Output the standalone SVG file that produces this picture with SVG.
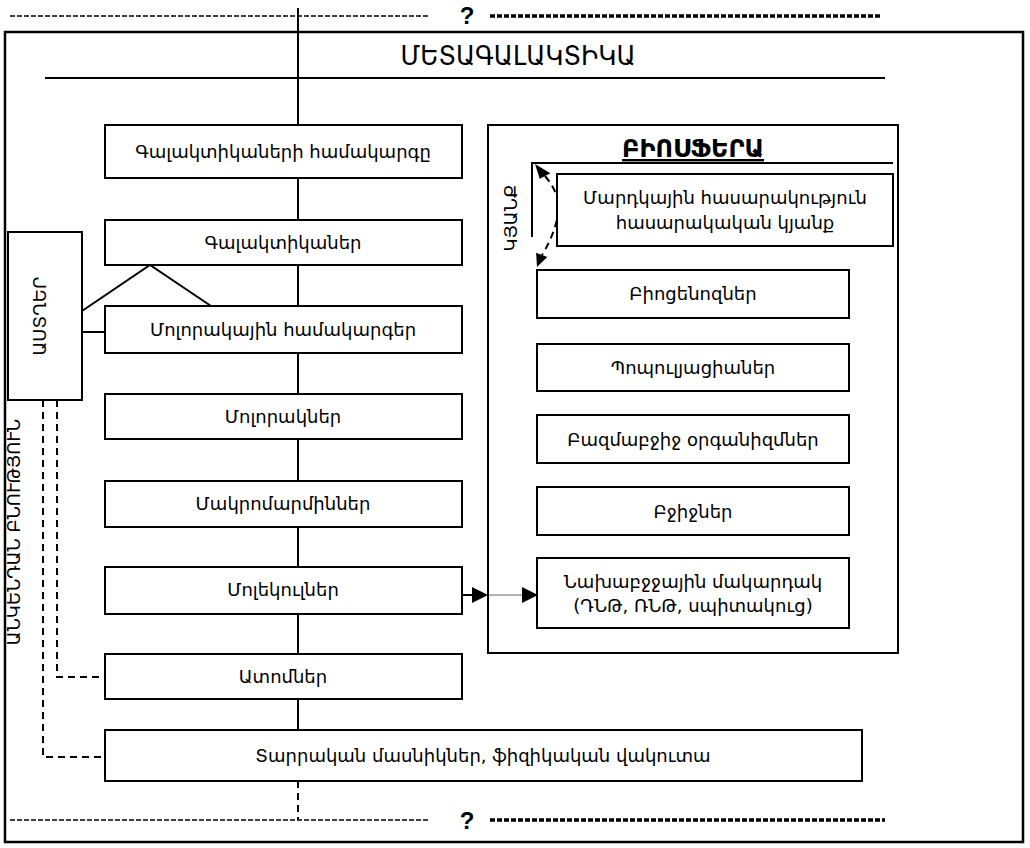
<svg xmlns="http://www.w3.org/2000/svg" width="1030" height="848" viewBox="0 0 1030 848">
<style>
.box{fill:#fff;stroke:#000;stroke-width:2}
.ln{stroke:#000;stroke-width:2;fill:none}
.dl{stroke:#000;stroke-width:2;fill:none;stroke-dasharray:7,5}
.t{font-family:"DejaVu Sans","Noto Sans",sans-serif;font-size:18px;fill:#000;text-anchor:middle}
.q{font-family:"Liberation Sans",Arial,sans-serif;font-size:24px;font-weight:bold;fill:#000;text-anchor:middle}
</style>
<rect width="1030" height="848" fill="#fff"/>
<rect x="5" y="32" width="1018" height="810" fill="none" stroke="#000" stroke-width="2.5"/>
<g id="connectors">
<line class="ln" x1="298" y1="8" x2="298" y2="730"/>
<line class="dl" x1="298" y1="781" x2="298" y2="820"/>
<line x1="10" y1="16" x2="430" y2="16" stroke="#000" stroke-width="1.5" stroke-dasharray="5,2"/>
<line x1="490" y1="16" x2="880" y2="16" stroke="#000" stroke-width="3.5" stroke-dasharray="5,2"/>
<line x1="10" y1="820" x2="430" y2="820" stroke="#000" stroke-width="1.5" stroke-dasharray="5,2"/>
<line x1="490" y1="820" x2="885" y2="820" stroke="#000" stroke-width="3.5" stroke-dasharray="5,2"/>
<line class="ln" x1="45" y1="78" x2="885" y2="78" stroke-width="2.5"/>
<polyline class="ln" points="82,311 150,265 211,306"/>
<line class="ln" x1="82" y1="332" x2="105" y2="332"/>
<polyline class="dl" points="43,400 43,757 105,757"/>
<polyline class="dl" points="57,400 57,677 105,677"/>
<line class="ln" x1="462" y1="595" x2="476" y2="595"/>
<polygon points="488,595 472,587 472,603" fill="#000"/>
<line x1="488" y1="595" x2="526" y2="595" stroke="#666" stroke-width="1"/>
<polygon points="538,595 522,587 522,603" fill="#000"/>
<polyline class="ln" points="532,237 532,163 893,163"/>
<path class="dl" d="M 545 176 Q 561 195 558 212 Q 556 232 542 255"/>
<polygon points="535,164 550.3,173.3 539.7,178.7" fill="#000"/>
<polygon points="537,267 547.3,257.1 536.1,252.7" fill="#000"/>
</g>
<text class="q" x="467" y="24">?</text>
<text class="q" x="467" y="829">?</text>
<text class="t" x="518" y="65" style="font-size:26px" textLength="235" lengthAdjust="spacingAndGlyphs">ՄԵՏԱԳԱԼԱԿՏԻԿԱ</text>
<g id="astgher"><rect class="box" x="8" y="232" width="74" height="168"/><text class="t" transform="translate(46,316) rotate(-90)">ԱՍՏՂԵՐ</text></g>
<text class="t" transform="translate(20,532) rotate(-90)">ԱՆԿԵՆԴԱՆ ԲՆՈՒԹՅՈՒՆ</text>
<g id="n1"><rect class="box" x="105" y="125" width="357" height="53"/><text class="t" x="283" y="158">Գալակտիկաների համակարգը</text></g>
<g id="n2"><rect class="box" x="105" y="220" width="357" height="45"/><text class="t" x="283" y="249">Գալակտիկաներ</text></g>
<g id="n3"><rect class="box" x="105" y="306" width="357" height="47"/><text class="t" x="283" y="336">Մոլորակային համակարգեր</text></g>
<g id="n4"><rect class="box" x="105" y="394" width="357" height="45"/><text class="t" x="283" y="423">Մոլորակներ</text></g>
<g id="n5"><rect class="box" x="105" y="481" width="357" height="46"/><text class="t" x="283" y="510">Մակրոմարմիններ</text></g>
<g id="n6"><rect class="box" x="105" y="567" width="357" height="47"/><text class="t" x="283" y="596">Մոլեկուլներ</text></g>
<g id="n7"><rect class="box" x="105" y="654" width="357" height="45"/><text class="t" x="283" y="683">Ատոմներ</text></g>
<g id="n8"><rect class="box" x="105" y="730" width="757" height="51"/><text class="t" x="483" y="762">Տարրական մասնիկներ, ֆիզիկական վակուտա</text></g>
<g id="biosphere"><rect x="488" y="125" width="410" height="528" fill="none" stroke="#000" stroke-width="2"/><text class="t" x="693" y="157" style="font-size:24px;font-weight:bold;text-decoration:underline">ԲԻՈՍՖԵՐԱ</text></g>
<text class="t" transform="translate(517,218) rotate(-90)">ԿՅԱՆՔ</text>
<g id="b0"><rect class="box" x="557" y="174" width="336" height="72"/><text class="t" x="725" y="204">Մարդկային հասարակություն</text><text class="t" x="725" y="229">հասարակական կյանք</text></g>
<g id="b1"><rect class="box" x="537" y="270" width="312" height="48"/><text class="t" x="693" y="300">Բիոցենոզներ</text></g>
<g id="b2"><rect class="box" x="537" y="344" width="312" height="47"/><text class="t" x="693" y="374">Պոպուլյացիաներ</text></g>
<g id="b3"><rect class="box" x="537" y="415" width="312" height="48"/><text class="t" x="693" y="446">Բազմաբջիջ օրգանիզմներ</text></g>
<g id="b4"><rect class="box" x="537" y="487" width="312" height="48"/><text class="t" x="693" y="518">Բջիջներ</text></g>
<g id="b5"><rect class="box" x="537" y="558" width="312" height="70"/><text class="t" x="693" y="588">Նախաբջջային մակարդակ</text><text class="t" x="693" y="612">(ԴՆԹ, ՌՆԹ, սպիտակուց)</text></g>
</svg>
